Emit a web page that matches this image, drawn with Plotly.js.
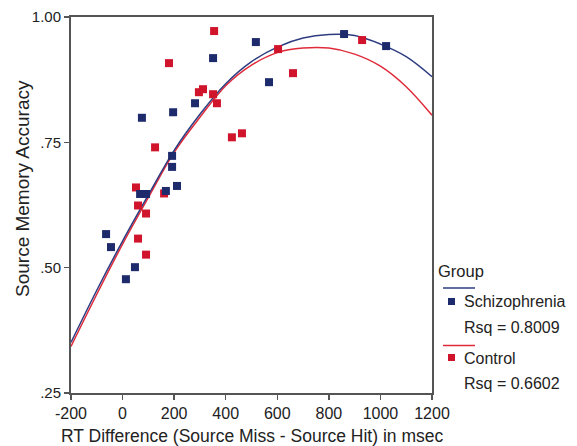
<!DOCTYPE html>
<html>
<head>
<meta charset="utf-8">
<script src="https://cdn.plot.ly/plotly-3.0.1.min.js"></script>
<style>html,body{margin:0;padding:0;background:#fff;}#chart{width:577px;height:446px;}</style>
</head>
<body>
<div id="chart"></div>
<script>
// Schizophrenia group points
var schizX = [517, 351, 75, 196, 281, 192, 192, 211, 168, 68, 91, -64, -45, 48, 13, 568, 859, 1022];
var schizY = [0.950, 0.918, 0.799, 0.810, 0.828, 0.723, 0.701, 0.663, 0.653, 0.647, 0.647, 0.567, 0.541, 0.501, 0.477, 0.870, 0.966, 0.942];
// Control group points
var ctrlX = [355, 180, 296, 312, 351, 366, 424, 463, 126, 52, 161, 60, 91, 60, 91, 603, 661, 929];
var ctrlY = [0.972, 0.908, 0.850, 0.856, 0.846, 0.828, 0.760, 0.768, 0.740, 0.660, 0.648, 0.624, 0.608, 0.558, 0.526, 0.936, 0.888, 0.954];
// Fit lines
var fitX = [-200, -100, 0, 100, 200, 300, 400, 500, 600, 700, 800, 900, 1000, 1100, 1200];
var schizFit = [0.351, 0.455, 0.553, 0.645, 0.734, 0.806, 0.867, 0.911, 0.940, 0.958, 0.965, 0.963, 0.946, 0.921, 0.881];
var ctrlFit = [0.343, 0.447, 0.547, 0.640, 0.730, 0.800, 0.863, 0.904, 0.929, 0.938, 0.938, 0.926, 0.902, 0.861, 0.804];
// Axis ticks
var xTicks = [-200, 0, 200, 400, 600, 800, 1000, 1200];
var xTickText = ['-200', '0', '200', '400', '600', '800', '1000', '1200'];
var yTicks = [0.25, 0.50, 0.75, 1.00];
var yTickText = ['.25', '.50', '.75', '1.00'];
var groupNames = ['Schizophrenia', 'Control'];
var rsqLabels = ['Rsq = 0.8009', 'Rsq = 0.6602'];

var BLUE = '#1d2a6b', RED = '#d0142c';
var BLUE_LINE = '#2e3c80', RED_LINE = '#e02a3a';
var FONT = 'Liberation Sans, Arial, Helvetica, sans-serif';

var traces = [
  {x: fitX, y: ctrlFit, mode: 'lines', line: {color: RED_LINE, width: 1.5, shape: 'spline'}, hoverinfo: 'skip'},
  {x: fitX, y: schizFit, mode: 'lines', line: {color: BLUE_LINE, width: 1.5, shape: 'spline'}, hoverinfo: 'skip'},
  {x: ctrlX, y: ctrlY, mode: 'markers', name: groupNames[1], marker: {symbol: 'square', size: 8, color: RED}},
  {x: schizX, y: schizY, mode: 'markers', name: groupNames[0], marker: {symbol: 'square', size: 8, color: BLUE}}
];

// pixel -> paper helpers for legend placement
var L = 71, R = 432, T = 17, B = 393;
function px(v){ return (v - L) / (R - L); }
function py(v){ return (B - v) / (B - T); }

var shapes = [
  {type: 'line', xref: 'paper', yref: 'paper', x0: px(443), x1: px(475), y0: py(288), y1: py(288), line: {color: BLUE_LINE, width: 1.5}},
  {type: 'rect', xref: 'paper', yref: 'paper', x0: px(448), x1: px(455), y0: py(305), y1: py(298), fillcolor: BLUE, line: {width: 0}},
  {type: 'line', xref: 'paper', yref: 'paper', x0: px(443), x1: px(475), y0: py(345.5), y1: py(345.5), line: {color: RED_LINE, width: 1.5}},
  {type: 'rect', xref: 'paper', yref: 'paper', x0: px(448), x1: px(455), y0: py(361), y1: py(354), fillcolor: RED, line: {width: 0}}
];

function ann(text, xpix, ypix, size, extra){
  var a = {text: text, xref: 'paper', yref: 'paper', x: px(xpix), y: py(ypix), xanchor: 'left', yanchor: 'middle', showarrow: false, font: {family: FONT, size: size, color: '#222'}};
  for (var k in extra) a[k] = extra[k];
  return a;
}

var annotations = [
  ann('Group', 436, 271, 16.5),
  ann(groupNames[0], 462, 301, 16),
  ann(rsqLabels[0], 462, 327, 16),
  ann(groupNames[1], 462, 358, 16),
  ann(rsqLabels[1], 462, 383, 16),
  ann('Source Memory Accuracy', 22, 189, 19, {xanchor: 'center', textangle: -90}),
  ann('RT Difference (Source Miss - Source Hit) in msec', 251.5, 436, 17.5, {xanchor: 'center'})
];

var layout = {
  width: 577, height: 446,
  margin: {l: L, r: 577 - R, t: T, b: 446 - B, pad: 0},
  paper_bgcolor: '#fff', plot_bgcolor: '#fff',
  showlegend: false,
  font: {family: FONT, color: '#222'},
  xaxis: {
    range: [-200, 1200], tickmode: 'array', tickvals: xTicks, ticktext: xTickText,
    showgrid: false, zeroline: false,
    showline: true, mirror: true, linecolor: '#555', linewidth: 2,
    ticks: 'outside', ticklen: 5, tickwidth: 1.5, tickcolor: '#555',
    tickfont: {family: FONT, size: 16, color: '#222'}
  },
  yaxis: {
    range: [0.25, 1.0], tickmode: 'array', tickvals: yTicks, ticktext: yTickText,
    showgrid: false, zeroline: false,
    showline: true, mirror: true, linecolor: '#555', linewidth: 2,
    ticks: 'outside', ticklen: 5, tickwidth: 1.5, tickcolor: '#555',
    tickfont: {family: FONT, size: 15, color: '#222'}
  },
  shapes: shapes,
  annotations: annotations
};

Plotly.newPlot('chart', traces, layout, {staticPlot: true, displayModeBar: false});
</script>
</body>
</html>
